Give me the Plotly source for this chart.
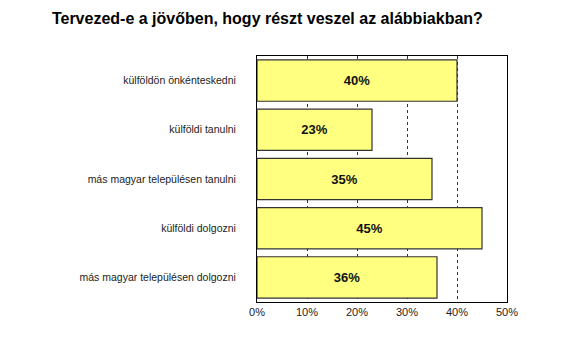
import plotly.graph_objects as go

categories = [
    "külföldön önkénteskedni",
    "külföldi tanulni",
    "más magyar településen tanulni",
    "külföldi dolgozni",
    "más magyar településen dolgozni",
]
values = [40, 23, 35, 45, 36]
tick_vals = [0, 10, 20, 30, 40, 50]
tick_text = ["0%", "10%", "20%", "30%", "40%", "50%"]

fig = go.Figure(
    go.Bar(
        y=categories,
        x=values,
        orientation="h",
        width=0.84,
        marker=dict(color="#FFFF80", line=dict(color="#333333", width=1.2)),
        text=[f"{v}%" for v in values],
        textposition="inside",
        insidetextanchor="middle",
        textfont=dict(family="Liberation Sans, Arial", size=13, color="#111111", weight="bold"),
        hoverinfo="skip",
    )
)

fig.update_layout(
    width=575,
    height=338,
    margin=dict(l=257, r=68, t=56, b=36),
    paper_bgcolor="white",
    plot_bgcolor="white",
    showlegend=False,
    title=dict(
        text="<b>Tervezed-e a jövőben, hogy részt veszel az alábbiakban?</b>",
        x=0.465,
        xanchor="center",
        y=1 - 18 / 338,
        yanchor="middle",
        font=dict(family="Liberation Sans, Arial", size=16, color="#000000"),
    ),
    xaxis=dict(
        range=[0, 50],
        tickvals=tick_vals,
        ticktext=tick_text,
        showgrid=True,
        gridcolor="#333333",
        griddash="dot",
        gridwidth=1,
        showline=True,
        linecolor="#000000",
        linewidth=1,
        mirror=True,
        ticks="",
        tickfont=dict(family="Liberation Sans, Arial", size=11, color="#222222"),
        zeroline=False,
        fixedrange=True,
    ),
    yaxis=dict(
        autorange="reversed",
        showline=True,
        linecolor="#000000",
        linewidth=1,
        mirror=True,
        ticks="",
        ticklabelstandoff=18,
        tickfont=dict(family="Liberation Sans, Arial", size=10.5, color="#222222"),
        fixedrange=True,
    ),
    bargap=0.16,
)

fig.write_html("out.html")
